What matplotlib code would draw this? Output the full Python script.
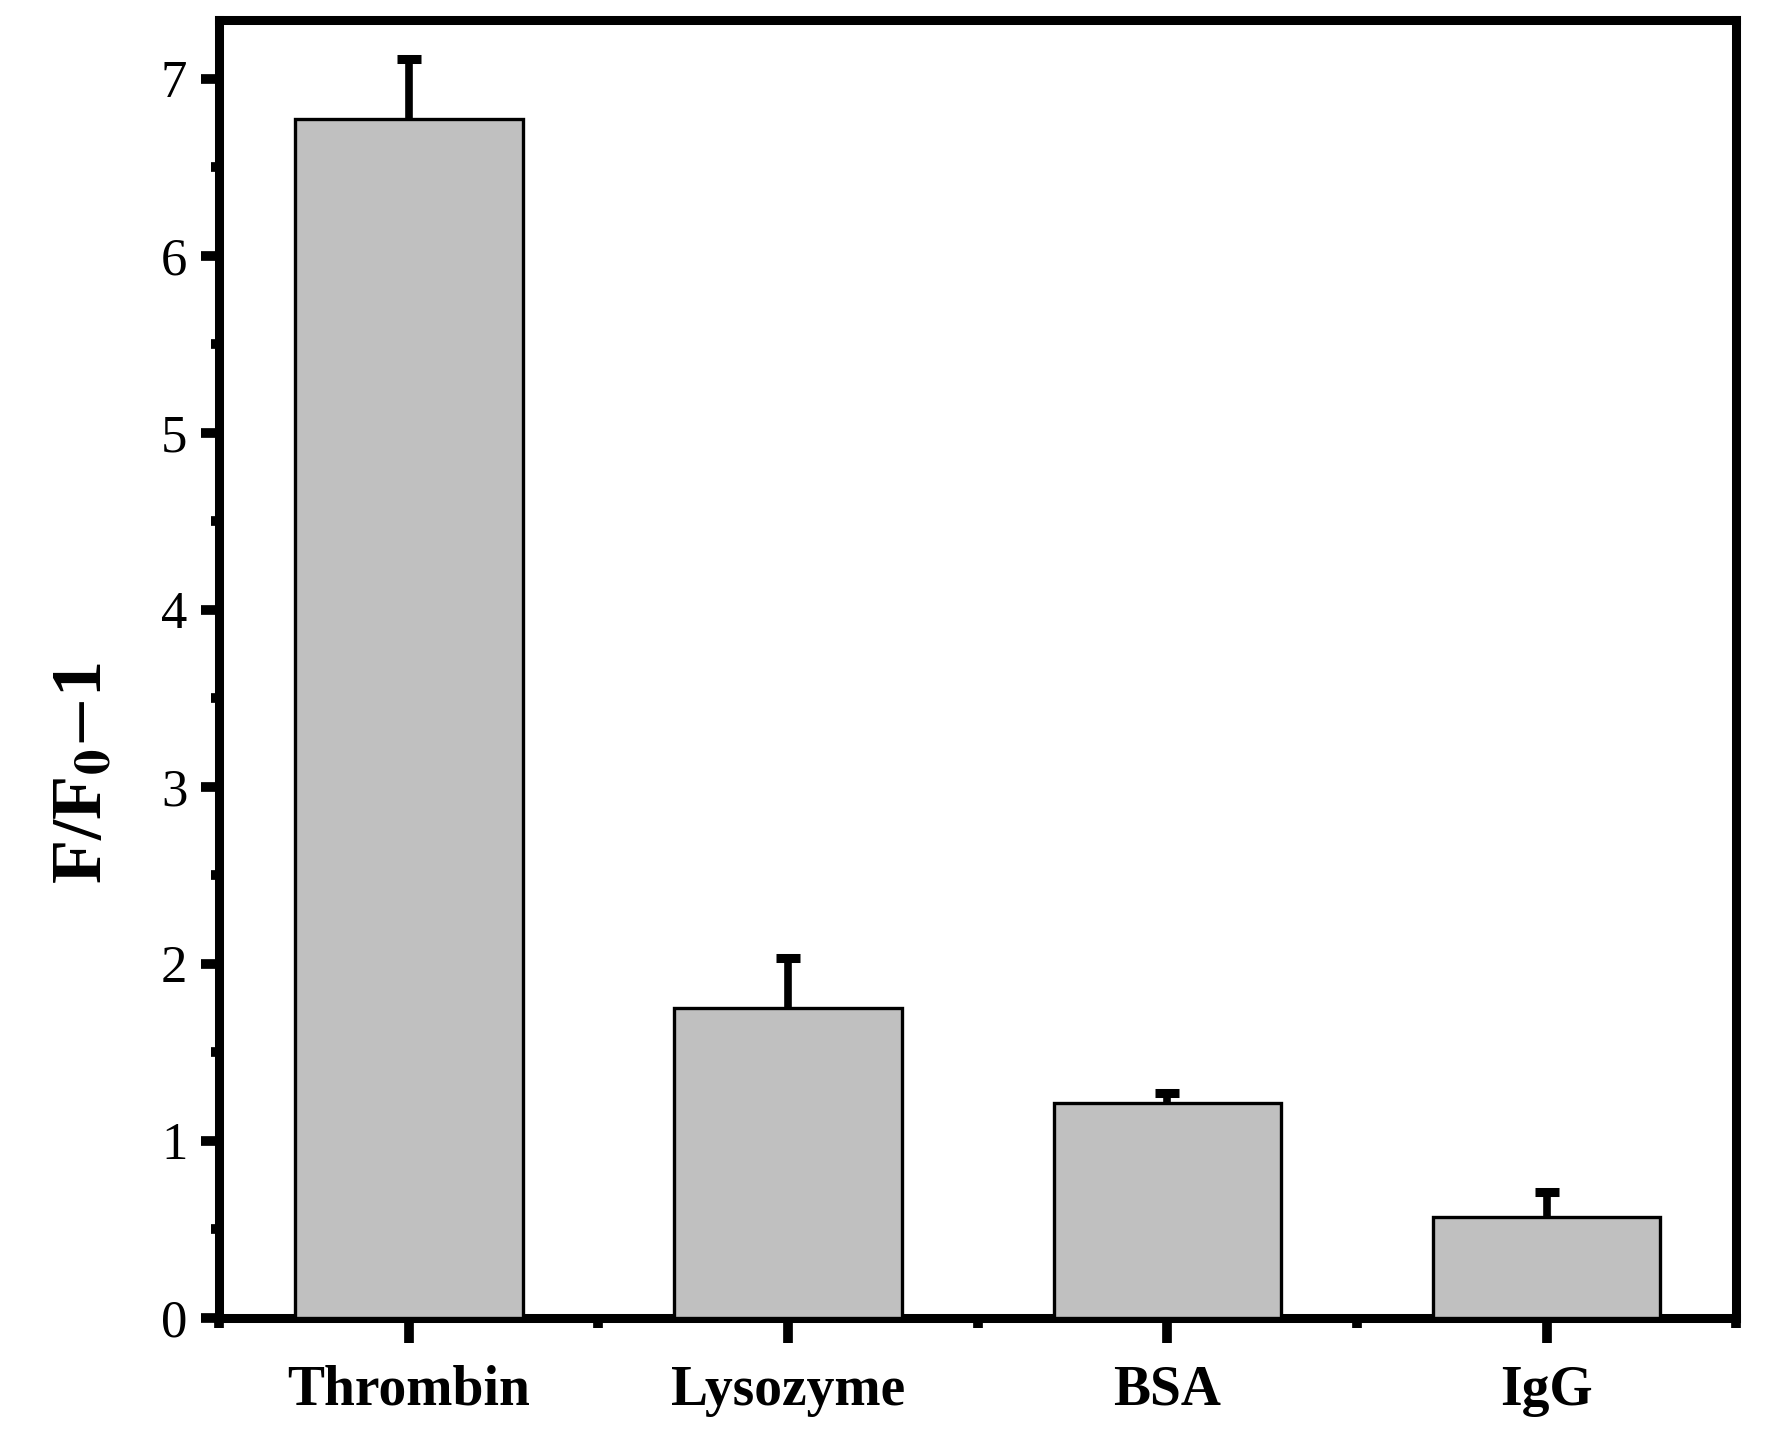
import numpy as np
import matplotlib
matplotlib.use("Agg")
import matplotlib.pyplot as plt
from matplotlib.ticker import MultipleLocator, FixedLocator

plt.rcParams['font.family'] = ['Liberation Serif', 'DejaVu Serif']
plt.rcParams['mathtext.fontset'] = 'stix'

# --- data ---
proteins = ["Thrombin", "Lysozyme", "BSA", "IgG"]
response = [6.77, 1.75, 1.21, 0.57]
err_up = [0.34, 0.28, 0.06, 0.14]

fig = plt.figure(figsize=(17.68, 14.4), dpi=100)
ax = fig.add_axes([0.124, 0.085, 0.858, 0.901])

x = np.arange(len(proteins))
ax.bar(x, response, width=0.6, color='#c0c0c0', edgecolor='black',
       linewidth=2.4, zorder=3)
eb = ax.errorbar(x, response, yerr=[np.zeros(len(err_up)), err_up], fmt='none',
                 ecolor='black', elinewidth=5.5, capsize=8.5, capthick=6.5, zorder=2)
# only the upper cap is shown
eb[1][0].set_visible(False)

# --- axes styling ---
ax.set_xlim(-0.5, 3.5)
ax.set_ylim(0, 7.33)
for s in ax.spines.values():
    s.set_linewidth(6.5)

ax.set_xticks(x)
ax.set_xticklabels(proteins, fontsize=40, fontweight='bold')
ax.xaxis.set_minor_locator(FixedLocator([-0.5, 0.5, 1.5, 2.5, 3.5]))
ax.yaxis.set_major_locator(MultipleLocator(1))
ax.yaxis.set_minor_locator(MultipleLocator(0.5))
ax.tick_params(axis='x', which='major', length=18, width=7, pad=16)
ax.tick_params(axis='x', which='minor', length=7, width=7)
ax.tick_params(axis='y', which='major', length=13, width=7, pad=10, labelsize=38)
ax.tick_params(axis='y', which='minor', length=6, width=7)
ax.tick_params(top=False, right=False, which='both', direction='out')

ax.set_ylabel(r"F/F$_{\mathbf{0}}$$-$1", fontsize=52, fontweight='bold')
ax.yaxis.set_label_coords(-0.068, 0.42)

fig.savefig("out.png", dpi=100)
